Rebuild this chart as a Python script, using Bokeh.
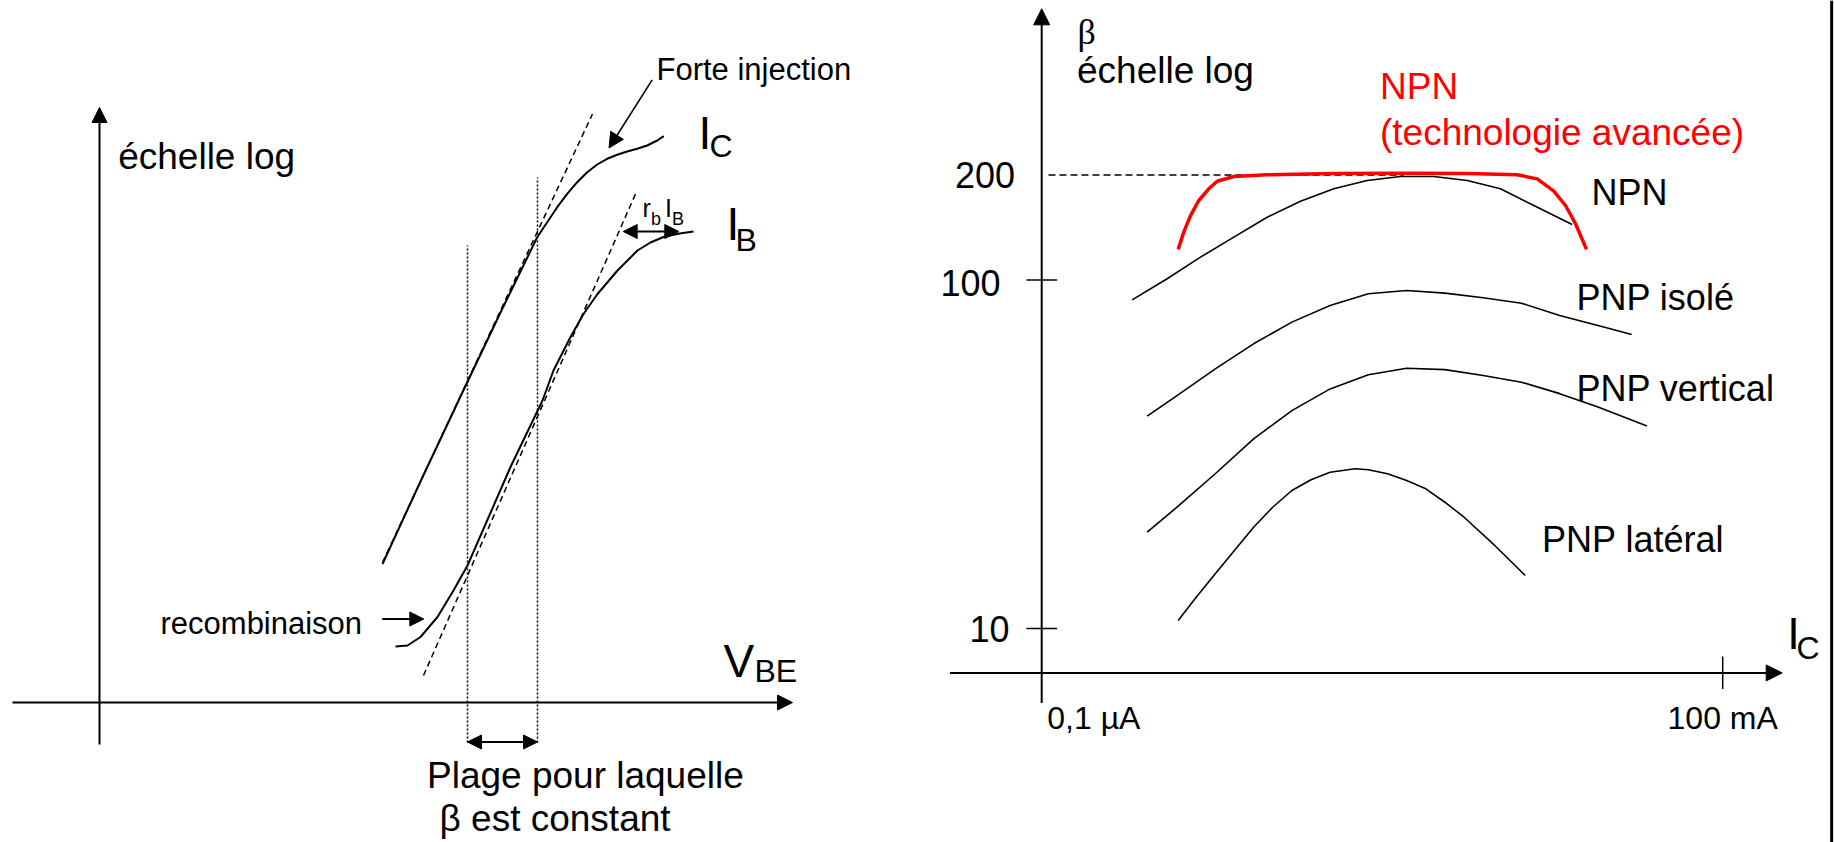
from bokeh.plotting import figure
from bokeh.layouts import row
from bokeh.models import Range1d, Arrow, NormalHead, Span, Grid
from bokeh.core.properties import value
from bokeh.embed import file_html
from bokeh.resources import INLINE

FONT = value("Liberation Sans")

# ---------------- left panel: log10(I) versus V_BE (schematic units) ----------------
IC_VBE = [0.283, 0.321, 0.361, 0.401, 0.421, 0.4377, 0.4477, 0.4577, 0.4677, 0.4777, 0.4877,
          0.4977, 0.5077, 0.5177, 0.5277, 0.5377, 0.5477, 0.5577, 0.5643]
IC_LOG = [-11.23, -9.58, -7.88, -6.20, -5.38, -4.694, -4.394, -4.094, -3.826, -3.594, -3.394,
          -3.24, -3.126, -3.046, -2.98, -2.926, -2.86, -2.76, -2.674]

IB_VBE = [0.296, 0.308, 0.321, 0.338, 0.354, 0.368, 0.411, 0.443, 0.454, 0.471, 0.484,
          0.498, 0.518, 0.538, 0.551, 0.564, 0.580, 0.594]
IB_LOG = [-12.88, -12.86, -12.69, -12.29, -11.76, -11.26, -9.29, -7.96, -7.36, -6.69, -6.23,
          -5.83, -5.36, -4.96, -4.80, -4.69, -4.62, -4.58]

IC_TAN_VBE = [0.283, 0.493]
IC_TAN_LOG = [-11.20, -2.23]
IB_TAN_VBE = [0.324, 0.536]
IB_TAN_LOG = [-13.46, -3.83]

PLATEAU_VBE = [0.368, 0.438]
PLATEAU_TOP = [-4.86, -3.50]
PLATEAU_BOTTOM = [-14.80, -14.80]

# ---------------- right panel: beta versus I_C (log-log) ----------------
NPN_IC = [6.27e-7, 1.275e-6, 2.506e-6, 4.927e-6, 9.70e-6, 1.906e-5, 3.746e-5, 7.375e-5,
          1.449e-4, 2.848e-4, 5.61e-4, 1.102e-3, 2.166e-3, 4.72e-3]
NPN_BETA = [87.7, 100.8, 116.3, 132.7, 151.4, 168.3, 182.7, 192.9, 198.2, 198.2, 192.9,
            182.7, 163.6, 144.3]

NPN_ADV_IC = [1.594e-6, 1.786e-6, 2.046e-6, 2.421e-6, 2.966e-6, 3.518e-6, 4.927e-6, 9.70e-6,
              3.746e-5, 1.449e-4, 5.61e-4, 1.547e-3, 2.321e-3, 3.25e-3, 4.12e-3, 5.05e-3, 6.31e-3]
NPN_ADV_BETA = [122.4, 137.2, 153.1, 169.1, 182.7, 192.0, 198.2, 200.4, 202.1, 202.5, 202.1,
                200.4, 195.1, 179.8, 163.6, 145.0, 122.4]

PNP_ISO_IC = [8.50e-7, 1.556e-6, 3.384e-6, 7.36e-6, 1.601e-5, 3.475e-5, 7.556e-5, 1.643e-4,
              3.568e-4, 7.76e-4, 1.688e-3, 3.664e-3, 7.966e-3, 1.578e-2]
PNP_ISO_BETA = [40.7, 46.6, 55.6, 65.6, 75.7, 84.5, 91.3, 93.3, 91.7, 88.9, 85.8, 79.1, 74.0, 69.8]

PNP_VERT_IC = [8.50e-7, 1.556e-6, 3.384e-6, 7.36e-6, 1.601e-5, 3.475e-5, 7.556e-5, 1.643e-4,
               3.568e-4, 7.76e-4, 1.688e-3, 3.664e-3, 7.966e-3, 2.153e-2]
PNP_VERT_BETA = [18.9, 22.3, 27.8, 35.0, 42.2, 48.7, 53.5, 55.8, 55.3, 53.2, 50.9, 47.2, 43.2, 38.1]

PNP_LAT_IC = [1.594e-6, 2.297e-6, 3.384e-6, 4.987e-6, 7.36e-6, 1.084e-5, 1.601e-5, 2.359e-5,
              3.475e-5, 5.758e-5, 7.556e-5, 1.114e-4, 1.643e-4, 2.422e-4, 3.568e-4, 5.267e-4,
              9.80e-4, 1.823e-3]
PNP_LAT_BETA = [10.54, 12.30, 14.35, 16.74, 19.53, 22.28, 24.89, 26.71, 28.09, 28.72, 28.54,
                27.79, 26.59, 25.17, 23.03, 20.86, 17.31, 14.19]

BETA_TICKS = [10, 100]
BETA_TICK_LABELS = ["10", "100"]
IC_MIN, IC_MAX = 1e-7, 0.1
IC_TICK_LABELS = ["0,1 \u00b5A", "100 mA"]
BETA_REF = 200


def head(size=15):
    return NormalHead(size=size, fill_color="black", line_color="black", line_width=1)


def base_fig(width, xr, yr, **kw):
    p = figure(width=width, height=842, x_range=xr, y_range=yr,
               x_axis_location=None, y_axis_location=None,
               toolbar_location=None, output_backend="svg", min_border=0, **kw)
    p.outline_line_color = None
    p.background_fill_color = "white"
    p.border_fill_color = "white"
    for g in p.select(type=Grid):
        g.visible = False
    return p


# ======================= LEFT =======================
L = base_fig(900, Range1d(-0.099, 0.801), Range1d(-16.8, 0.04))

# axes
L.add_layout(Arrow(x_start=0, y_start=-14.84, x_end=0, y_end=-2.1, end=head(15), line_width=2))
L.add_layout(Arrow(x_start=-0.087, y_start=-14.0, x_end=0.693, y_end=-14.0, end=head(15), line_width=2))

# tangents
L.line(IC_TAN_VBE, IC_TAN_LOG, line_color="black", line_width=1.5, line_dash="6 4")
L.line(IB_TAN_VBE, IB_TAN_LOG, line_color="black", line_width=1.5, line_dash="6 4")
# plateau limits
L.segment(x0=PLATEAU_VBE, y0=PLATEAU_BOTTOM, x1=PLATEAU_VBE, y1=PLATEAU_TOP,
          line_color="black", line_width=1.5, line_dash="2 2")
# curves
L.line(IC_VBE, IC_LOG, line_color="black", line_width=2, line_join="round")
L.line(IB_VBE, IB_LOG, line_color="black", line_width=2, line_join="round")

# annotation arrows
L.add_layout(Arrow(x_start=PLATEAU_VBE[0], y_start=-14.79, x_end=PLATEAU_VBE[1], y_end=-14.79,
                   start=head(14), end=head(14), line_width=2))
L.add_layout(Arrow(x_start=0.5237, y_start=-4.58, x_end=0.5793, y_end=-4.58,
                   start=head(14), end=head(14), line_width=2))
L.add_layout(Arrow(x_start=0.2827, y_start=-12.33, x_end=0.3243, y_end=-12.33,
                   end=head(14), line_width=2))
L.add_layout(Arrow(x_start=0.5526, y_start=-1.55, x_end=0.5095, y_end=-2.91,
                   end=head(15), line_width=1.5))

# texts
L.text(x=[0.0187], y=[-3.08], text=["échelle log"], text_font=FONT, text_font_size="37px",
       text_align="left", text_baseline="middle")
L.text(x=[0.557], y=[-1.334], text=["Forte injection"], text_font=FONT, text_font_size="31px",
       text_align="left", text_baseline="middle")
L.text(x=[0.061], y=[-12.41], text=["recombinaison"], text_font=FONT, text_font_size="31px",
       text_align="left", text_baseline="middle")
L.text(x=[0.3275, 0.340], y=[-15.46, -16.32], text=["Plage pour laquelle", "β est constant"],
       text_font=FONT, text_font_size="37px", text_align="left", text_baseline="middle")
# I_C, I_B, V_BE, r_b I_B
L.text(x=[0.599, 0.627, 0.624], y=[-2.61, -4.43, -13.17], text=["I", "I", "V"],
       text_font=FONT, text_font_size="46px", text_align="left", text_baseline="alphabetic")
L.text(x=[0.610, 0.636, 0.655], y=[-2.86, -4.74, -13.36], text=["C", "B", "BE"],
       text_font=FONT, text_font_size="32px", text_align="left", text_baseline="alphabetic")
L.text(x=[0.543, 0.5655], y=[-4.11, -4.11], text=["r", "I"],
       text_font=FONT, text_font_size="25px", text_align="left", text_baseline="alphabetic")
L.text(x=[0.5515, 0.5725], y=[-4.32, -4.32], text=["b", "B"],
       text_font=FONT, text_font_size="18px", text_align="left", text_baseline="alphabetic")

# ======================= RIGHT =======================
R = base_fig(934, Range1d(10 ** -8.244, 10 ** -0.015), Range1d(10 ** 0.38594, 10 ** 2.80201),
             x_axis_type="log", y_axis_type="log")

R.add_layout(Arrow(x_start=IC_MIN, y_start=6.11, x_end=IC_MIN, y_end=600, end=head(16), line_width=2))
R.add_layout(Arrow(x_start=1.553e-8, y_start=7.457, x_end=0.3343, y_end=7.457, end=head(16), line_width=2))
R.segment(x0=[7.34e-8] * 2, y0=BETA_TICKS, x1=[1.367e-7] * 2, y1=BETA_TICKS,
          line_color="black", line_width=1.5)
R.segment(x0=[IC_MAX], y0=[6.706], x1=[IC_MAX], y1=[8.31], line_color="black", line_width=1.5)
R.line([1.148e-7, 1.55e-4], [BETA_REF, BETA_REF], line_color="black", line_width=1.5, line_dash="7 4")

for xs, ys in [(NPN_IC, NPN_BETA), (PNP_ISO_IC, PNP_ISO_BETA),
               (PNP_VERT_IC, PNP_VERT_BETA), (PNP_LAT_IC, PNP_LAT_BETA)]:
    R.line(xs, ys, line_color="black", line_width=1.6, line_join="round")
R.line(NPN_ADV_IC, NPN_ADV_BETA, line_color="#ff0000", line_width=3.5, line_join="round")

R.text(x=[5.82e-8], y=[BETA_REF], text=[str(BETA_REF)], text_font=FONT, text_font_size="36px",
       text_align="right", text_baseline="middle")
R.text(x=[5.2e-8, 4.335e-8], y=[10, 98], text=BETA_TICK_LABELS, text_font=FONT,
       text_font_size="36px", text_align="right", text_baseline="middle")
R.text(x=[2.067e-7], y=[515], text=["β"], text_font=value("Liberation Serif"), text_font_size="36px",
       text_align="left", text_baseline="middle")
R.text(x=[2.046e-7], y=[399], text=["échelle log"], text_font=FONT, text_font_size="37px",
       text_align="left", text_baseline="middle")
R.text(x=[9.56e-5, 9.56e-5], y=[359, 265.7], text=["NPN", "(technologie avancée)"], text_font=FONT,
       text_font_size="37px", text_color="#ff0000", text_align="left", text_baseline="middle")
R.text(x=[6.98e-3, 5.15e-3, 5.15e-3, 2.56e-3], y=[178.6, 89.1, 48.9, 18.04],
       text=["NPN", "PNP isolé", "PNP vertical", "PNP latéral"], text_font=FONT,
       text_font_size="36px", text_align="left", text_baseline="middle")
R.text(x=[1.12e-7], y=[5.55], text=[IC_TICK_LABELS[0]], text_font=FONT, text_font_size="32px",
       text_align="left", text_baseline="middle")
R.text(x=[IC_MAX], y=[5.55], text=[IC_TICK_LABELS[1]], text_font=FONT, text_font_size="32px",
       text_align="center", text_baseline="middle")
R.text(x=[0.370], y=[9.68], text=["I"], text_font=FONT, text_font_size="45px",
       text_align="left", text_baseline="alphabetic")
R.text(x=[0.4468], y=[8.79], text=["C"], text_font=FONT, text_font_size="32px",
       text_align="left", text_baseline="alphabetic")
R.add_layout(Span(location=0.912, dimension="height", line_color="black", line_width=3))

layout = row(L, R, spacing=0)
open("out.html", "w").write(file_html(layout, INLINE))
